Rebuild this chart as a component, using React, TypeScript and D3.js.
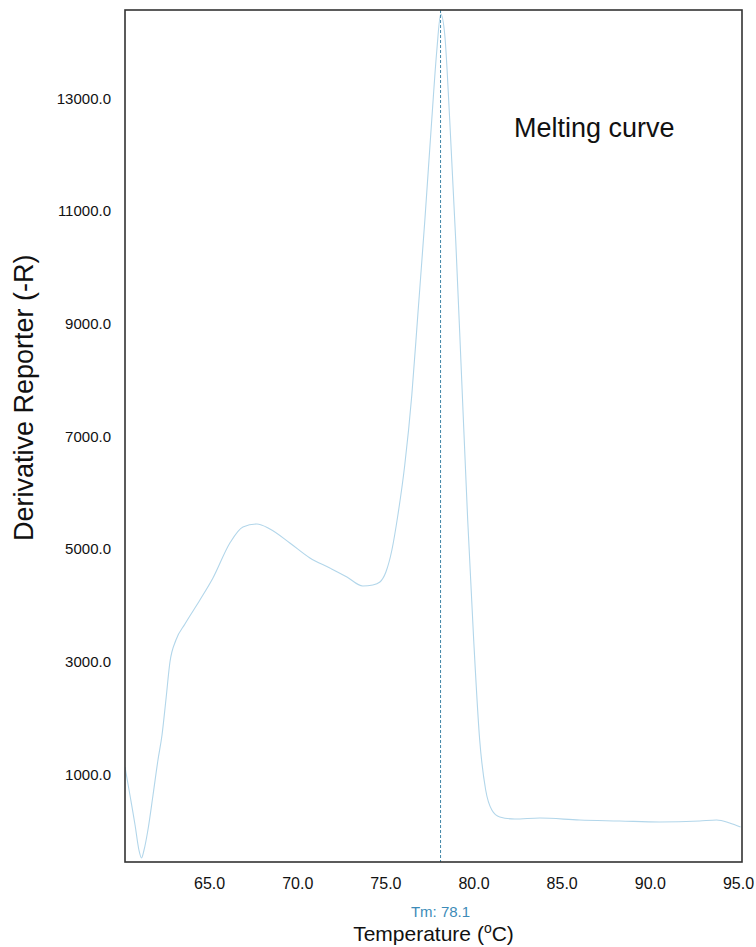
import React from "react";
import * as d3 from "d3";

const temps = [60.2, 60.48, 60.77, 60.99, 61.14, 61.28, 61.5, 61.79, 62.07, 62.3, 62.52, 62.75, 63.09, 63.6, 64.45, 65.19, 66.15, 66.89, 67.68, 68.42, 69.55, 70.69, 71.82, 72.79, 73.69, 74.26, 74.66, 75.0, 75.34, 75.68, 76.07, 76.47, 76.81, 77.21, 77.6, 77.89, 78.11, 78.34, 78.62, 78.96, 79.3, 79.64, 79.98, 80.32, 80.66, 81.01, 81.46, 82.31, 83.73, 85.99, 88.26, 90.53, 92.8, 93.76, 94.5, 95.12];
const derivValues = [1128, 631, 99, -345, -487, -345, 10, 631, 1252, 1696, 2317, 2991, 3382, 3666, 4092, 4482, 5103, 5387, 5440, 5351, 5103, 4837, 4659, 4500, 4340, 4358, 4411, 4588, 4979, 5600, 6487, 7729, 9149, 10835, 12610, 13852, 14491, 14118, 12610, 10480, 7996, 5511, 3382, 1607, 720, 365, 241, 205, 223, 187, 170, 152, 170, 187, 134, 63];

const xTicks = [65, 70, 75, 80, 85, 90, 95];
const yTicks = [1000, 3000, 5000, 7000, 9000, 11000, 13000];
const tmValue = 78.1;
const titleText = "Melting curve";

const W = 756, H = 947;
const L = 125, R = 742, T = 10, B = 862;
const font = "'Liberation Sans', Arial, Helvetica, sans-serif";

export default function App() {
  const x = d3.scaleLinear().domain([60.2, 95.2]).range([L, R]);
  const y = d3.scaleLinear().domain([-558, 14562]).range([B, T]);
  const pts = temps.map((t, i) => [t, derivValues[i]] as [number, number]);
  const line = d3.line<[number, number]>().x(d => x(d[0])).y(d => y(d[1])).curve(d3.curveMonotoneX);
  const fmt = d3.format(".1f");
  return (
    <svg width={W} height={H} style={{ position: "absolute", left: 0, top: 0, background: "#fff" }} fontFamily={font}>
      <defs>
        <clipPath id="plotclip"><rect x={L} y={T} width={R - L} height={B - T} /></clipPath>
      </defs>
      <rect x={0} y={0} width={W} height={H} fill="#fff" />
      <g clipPath="url(#plotclip)">
        <path d={line(pts) || ""} fill="none" stroke="#b2d6ea" strokeWidth={1.1} />
        <line x1={x(tmValue)} x2={x(tmValue)} y1={T} y2={B} stroke="#3f86a6" strokeWidth={1} strokeDasharray="3,2" />
      </g>
      <rect x={L} y={T} width={R - L} height={B - T} fill="none" stroke="#333" strokeWidth={1.6} />
      {xTicks.map(t => (
        <text key={t} x={x(t)} y={889} textAnchor="middle" fontSize={16} fill="#111">{fmt(t)}</text>
      ))}
      {yTicks.map(t => (
        <text key={t} x={111} y={y(t) + 5.5} textAnchor="end" fontSize={15} fill="#111">{fmt(t)}</text>
      ))}
      <text x={x(tmValue)} y={917} textAnchor="middle" fontSize={15} fill="#3d8bb8">Tm: {fmt(tmValue)}</text>
      <text x={(L + R) / 2} y={941} textAnchor="middle" fontSize={21} fill="#111">
        Temperature (<tspan fontSize={14} dy={-8}>o</tspan><tspan dy={8}>C)</tspan>
      </text>
      <text transform={`translate(33,541) rotate(-90)`} textAnchor="start" fontSize={27} fill="#111">Derivative Reporter (-R)</text>
      <text x={514} y={137} fontSize={27} fill="#111">{titleText}</text>
    </svg>
  );
}
